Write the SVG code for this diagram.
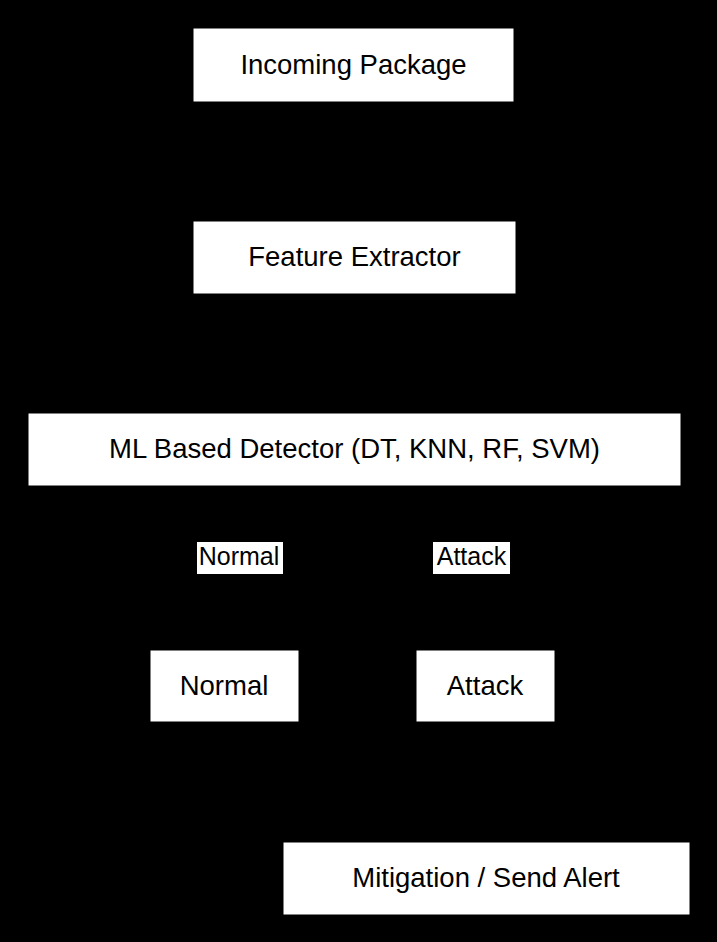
<svg xmlns="http://www.w3.org/2000/svg" width="717" height="942" viewBox="0 0 717 942">
<style>
.box{fill:#fff;stroke:#000;stroke-width:1}
.t{font-family:"Liberation Sans",Arial,sans-serif;font-size:27.5px;fill:#000;text-anchor:middle}
.lt{font-family:"Liberation Sans",Arial,sans-serif;font-size:25px;fill:#000;text-anchor:middle}
.lb{fill:#fff}
.edge{stroke:#000;stroke-width:2;fill:none;marker-end:url(#arr)}
</style>
<defs>
<marker id="arr" markerWidth="10" markerHeight="10" refX="9" refY="5" orient="auto" markerUnits="userSpaceOnUse">
<path d="M0,0 L10,5 L0,10 Z" fill="#000"/>
</marker>
</defs>
<rect width="717" height="942" fill="#000"/>
<g id="connectors">
<path class="edge" d="M354,102 L354,221"/>
<path class="edge" d="M354,294 L354,413"/>
<path class="edge" d="M300,486 L240,557 L225,650"/>
<path class="edge" d="M410,486 L471,557 L486,650"/>
<path class="edge" d="M486,722 L486,842"/>
<g id="label-normal"><rect class="lb" x="197" y="542" width="86" height="32"/><text class="lt" x="239" y="565">Normal</text></g>
<g id="label-attack"><rect class="lb" x="433" y="542" width="77" height="32"/><text class="lt" x="471.5" y="565">Attack</text></g>
</g>
<g id="incoming"><rect class="box" x="193" y="28" width="321" height="74"/><text class="t" x="353.5" y="73.5">Incoming Package</text></g>
<g id="extractor"><rect class="box" x="193" y="221" width="323" height="73"/><text class="t" x="354.5" y="266">Feature Extractor</text></g>
<g id="detector"><rect class="box" x="28" y="413" width="653" height="73"/><text class="t" x="354.5" y="458">ML Based Detector (DT, KNN, RF, SVM)</text></g>
<g id="normal"><rect class="box" x="150" y="650" width="149" height="72"/><text class="t" x="224" y="694.5">Normal</text></g>
<g id="attack"><rect class="box" x="416" y="650" width="139" height="72"/><text class="t" x="485" y="694.5">Attack</text></g>
<g id="mitigation"><rect class="box" x="283" y="842" width="407" height="73"/><text class="t" x="486" y="887">Mitigation / Send Alert</text></g>
</svg>
